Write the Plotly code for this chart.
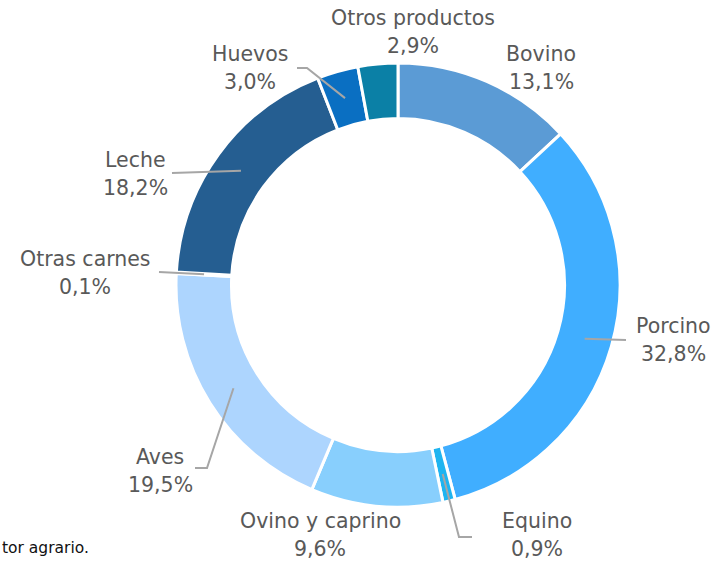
import math
import plotly.graph_objects as go

# data
categorias = ['Bovino', 'Porcino', 'Equino', 'Ovino y caprino', 'Aves',
              'Otras carnes', 'Leche', 'Huevos', 'Otros productos']
porcentajes = [13.1, 32.8, 0.9, 9.6, 19.5, 0.1, 18.2, 3.0, 2.9]
etiquetas = ['13,1%', '32,8%', '0,9%', '9,6%', '19,5%', '0,1%', '18,2%', '3,0%', '2,9%']
colores = ['#5B9BD5', '#40AEFF', '#1FB4F0', '#88CFFD', '#ADD5FE',
           '#D6EBFF', '#255E91', '#0A6FC2', '#0B80A6']

W, H = 719, 562
CX, CY, R = 398, 285, 222
HOLE = 0.75

# label placement (px): text centre, and optional elbow points of the leader line
label_pos = {
  'Bovino': (541, 68, None),
  'Porcino': (673, 340, [(626, 340)]),
  'Equino': (537, 535, [(472, 537), (459, 537)]),
  'Ovino y caprino': (320, 535, None),
  'Aves': (160, 471, [(195, 468), (207, 468)]),
  'Otras carnes': (85, 273, [(159, 272)]),
  'Leche': (135, 174, [(172, 173)]),
  'Huevos': (250, 68, [(297, 68), (307, 68)]),
  'Otros productos': (413, 32, None),
}

def px(x, y):
  return x / W, 1 - y / H

fig = go.Figure()

x0, y1 = px(CX - R, CY - R)
x1, y0 = px(CX + R, CY + R)
fig.add_trace(go.Pie(
  labels = categorias,
  values = porcentajes,
  hole = HOLE,
  sort = False,
  direction = 'clockwise',
  rotation = 0,
  textinfo = 'none',
  hoverinfo = 'label+percent',
  marker = dict(colors = colores, line = dict(color = 'white', width = 3)),
  domain = dict(x = [x0, x1], y = [y0, y1]),
))

total = sum(porcentajes)
acum = 0
shapes = []
annotations = []
r_mid = R * (1 + HOLE) / 2
for cat, val, lab in zip(categorias, porcentajes, etiquetas):
  ang = math.radians((acum + val / 2) / total * 360)
  acum += val
  tx, ty, elbow = label_pos[cat]
  for txt, dy in ((cat, -14), (lab, 14)):
    x, y = px(tx, ty + dy)
    annotations.append(dict(
      x = x, y = y, xref = 'paper', yref = 'paper', text = txt, showarrow = False,
      xanchor = 'center', yanchor = 'middle',
      font = dict(family = 'DejaVu Sans, sans-serif', size = 20.5, color = '#595959'),
    ))
  if elbow:
    sx = CX + r_mid * math.sin(ang)
    sy = CY - r_mid * math.cos(ang)
    pts = elbow + [(sx, sy)]
    path = 'M ' + ' L '.join('%f,%f' % px(a, b) for a, b in pts)
    shapes.append(dict(type = 'path', xref = 'paper', yref = 'paper', path = path,
                       line = dict(color = '#A6A6A6', width = 2)))

# cut-off footnote at the bottom-left
fx, fy = px(0, 548)
annotations.append(dict(
  x = fx, y = fy, xref = 'paper', yref = 'paper', text = 'tor agrario.', showarrow = False,
  xanchor = 'left', yanchor = 'middle',
  font = dict(family = 'DejaVu Sans, sans-serif', size = 15.5, color = '#111111'),
))

fig.update_layout(
  width = W, height = H,
  margin = dict(l = 0, r = 0, t = 0, b = 0),
  paper_bgcolor = 'white',
  showlegend = False,
  shapes = shapes,
  annotations = annotations,
)

# drop the default page margin so the figure sits at the window's corner
fig.write_html('out.html', config = dict(displayModeBar = False),
               post_script = "document.body.style.margin = '0';")
